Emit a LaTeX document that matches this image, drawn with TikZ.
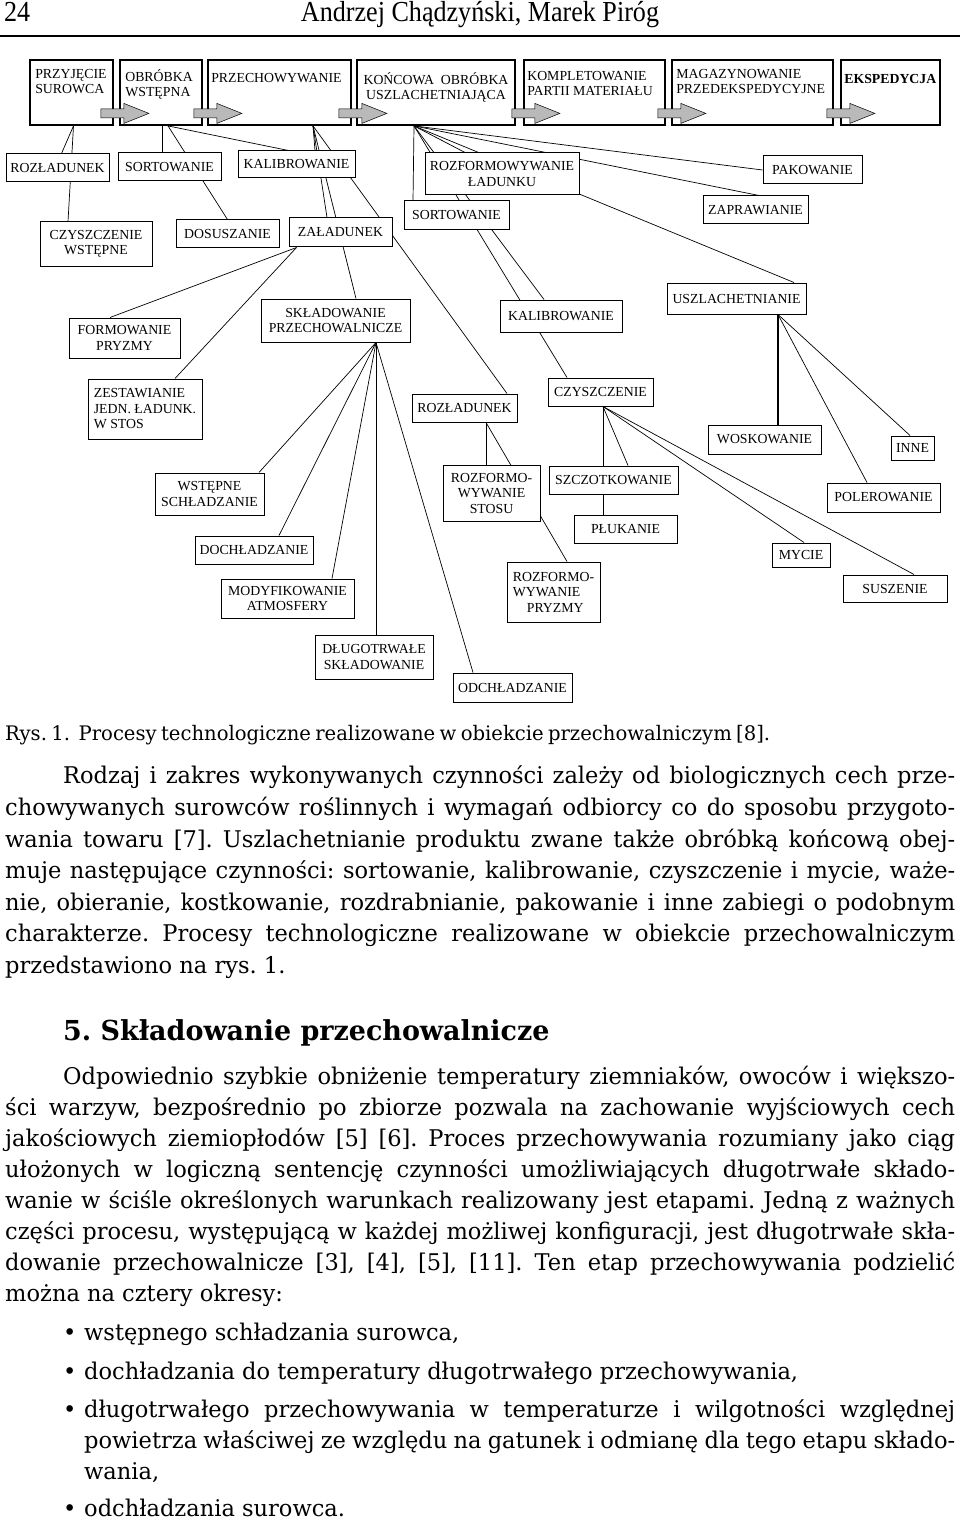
\documentclass[tikz,border=0pt]{standalone}
\usepackage{fontspec}
\setmainfont{DejaVu Serif}[FakeStretch=0.98]
\newfontfamily\procfamily{Liberation Serif}
\newfontfamily\headfamily{Liberation Serif}[FakeStretch=0.9]
\usetikzlibrary{backgrounds}

\newcommand{\procfont}{\procfamily\fontsize{13.8}{15.5}\selectfont}
\newcommand{\bodyfont}{\fontsize{23}{31}\selectfont}
\newcommand{\justline}[2]{\hbox to #1pt{#2}}
\frenchspacing

\begin{document}
\begin{tikzpicture}[x=1pt,y=-1pt,
  etap/.style={draw, line width=1.8pt, fill=white, inner sep=0pt, minimum height=65},
  etaptxt/.style={font=\procfont, align=left, inner sep=0pt, anchor=north west},
  box/.style={draw, line width=1pt, fill=white, font=\procfont, align=center, inner sep=1pt},
  link/.style={line width=0.7pt},
  blockarrow/.style={draw=black, line width=0.5pt, fill=gray!55},
  txtline/.style={font=\bodyfont, inner sep=0pt, anchor=base west}]

\useasboundingbox (0,0) rectangle (960,1522);

% naglowek strony
\node[anchor=base west, inner sep=0pt, font=\headfamily\fontsize{29}{32}\selectfont] (strona) at (4,22) {24};
\node[anchor=base, inner sep=0pt, font=\headfamily\fontsize{29}{32}\selectfont] (autorzy) at (480,22) {Andrzej Chądzyński, Marek Piróg};
\draw[line width=1.3pt] (0,36) -- (960,36);

% etapy glowne
\node[etap, minimum width=83] (przyjecie) at (71.5,92.5) {};
\node[etap, minimum width=82] (obrobka) at (161,92.5) {};
\node[etap, minimum width=143] (przechow) at (279.5,92.5) {};
\node[etap, minimum width=158] (koncowa) at (436,92.5) {};
\node[etap, minimum width=141] (komplet) at (594.5,92.5) {};
\node[etap, minimum width=161] (magazyn) at (752.5,92.5) {};
\node[etap, minimum width=99] (ekspedycja) at (890.5,92.5) {};

\node[etaptxt] (przyjecie-t) at ([xshift=6,yshift=-10]przyjecie.north west) {PRZYJĘCIE\\SUROWCA};
\node[etaptxt] (obrobka-t) at ([xshift=6,yshift=-10]obrobka.north west) {OBRÓBKA\\WSTĘPNA};
\node[etaptxt] (przechow-t) at ([xshift=4,yshift=-14]przechow.north west) {PRZECHOWYWANIE};
\node[etaptxt, anchor=north, align=center] (koncowa-t) at ([yshift=-13]koncowa.north) {KOŃCOWA\ \ OBRÓBKA\\USZLACHETNIAJĄCA};
\node[etaptxt] (komplet-t) at ([xshift=4,yshift=-12]komplet.north west) {KOMPLETOWANIE\\PARTII MATERIAŁU};
\node[etaptxt] (magazyn-t) at ([xshift=5,yshift=-10]magazyn.north west) {MAGAZYNOWANIE\\PRZEDEKSPEDYCYJNE};
\node[etaptxt, font=\procfont\bfseries] (ekspedycja-t) at ([xshift=4,yshift=-15]ekspedycja.north west) {EKSPEDYCJA};

\foreach \n/\d in {przyjecie/13, obrobka/9, przechow/13, koncowa/4, komplet/8, magazyn/7}
  \filldraw[blockarrow] ([xshift=-\d]\n.south east) ++(0,-17) -- ++(23,0) -- ++(0,-5.5) -- ++(25,10) -- ++(-25,10) -- ++(0,-5.5) -- ++(-23,0) -- cycle;

% czynnosci
\node[box, minimum width=103, minimum height=28] (rozl) at (57.5,168) {ROZŁADUNEK};
\node[box, minimum width=103, minimum height=28] (sort) at (169.5,167) {SORTOWANIE};
\node[box, minimum width=117, minimum height=27] (kalib) at (296.5,164.5) {KALIBROWANIE};
\node[box, minimum width=154, minimum height=42] (rozfl) at (502,174) {ROZFORMOWYWANIE\\ŁADUNKU};
\node[box, minimum width=99, minimum height=28] (pakow) at (812.5,170) {PAKOWANIE};
\node[box, minimum width=105, minimum height=29] (sortb) at (456.5,215.5) {SORTOWANIE};
\node[box, minimum width=105, minimum height=28] (zapraw) at (755.5,210) {ZAPRAWIANIE};
\node[box, minimum width=112, minimum height=44] (czwst) at (96,244) {CZYSZCZENIE\\WSTĘPNE};
\node[box, minimum width=103, minimum height=28] (dosusz) at (227.5,234) {DOSUSZANIE};
\node[box, minimum width=103, minimum height=29] (zalad) at (340.5,232.5) {ZAŁADUNEK};
\node[box, minimum width=111, minimum height=40] (formow) at (124.5,338) {FORMOWANIE\\PRYZMY};
\node[box, minimum width=149, minimum height=43] (skladow) at (335.5,320.5) {SKŁADOWANIE\\PRZECHOWALNICZE};
\node[box, minimum width=122, minimum height=32] (kalibb) at (561,316) {KALIBROWANIE};
\node[box, minimum width=139, minimum height=31] (uszlach) at (736.5,298.5) {USZLACHETNIANIE};
\node[box, minimum width=114, minimum height=60, align=left] (zestaw) at (145,409) {ZESTAWIANIE\\JEDN. ŁADUNK.\\W STOS};
\node[box, minimum width=105, minimum height=28] (rozlb) at (464.5,408) {ROZŁADUNEK};
\node[box, minimum width=105, minimum height=28] (czysz) at (600.5,392) {CZYSZCZENIE};
\node[box, minimum width=113, minimum height=29] (wosk) at (764.5,439.5) {WOSKOWANIE};
\node[box, minimum width=43, minimum height=24] (inne) at (912.5,448) {INNE};
\node[box, minimum width=109, minimum height=42] (wstschl) at (209.5,494) {WSTĘPNE\\SCHŁADZANIE};
\node[box, minimum width=97, minimum height=56] (stosu) at (491.5,493) {ROZFORMO-\\WYWANIE\\STOSU};
\node[box, minimum width=129, minimum height=28] (szczot) at (613.5,480) {SZCZOTKOWANIE};
\node[box, minimum width=113, minimum height=29] (poler) at (883.5,497.5) {POLEROWANIE};
\node[box, minimum width=103, minimum height=28] (pluk) at (625.5,529) {PŁUKANIE};
\node[box, minimum width=118, minimum height=28] (dochl) at (254,550) {DOCHŁADZANIE};
\node[box, minimum width=58, minimum height=24] (mycie) at (801,555) {MYCIE};
\node[box, minimum width=133, minimum height=39] (modyf) at (287.5,598.5) {MODYFIKOWANIE\\ATMOSFERY};
\node[box, minimum width=104, minimum height=27] (susz) at (895,588.5) {SUSZENIE};
\node[box, minimum width=93, minimum height=60, align=left] (pryzmy) at (553.5,592) {ROZFORMO-\\WYWANIE\\\hspace*{14pt}PRYZMY};
\node[box, minimum width=118, minimum height=44] (dlugo) at (374,657) {DŁUGOTRWAŁE\\SKŁADOWANIE};
\node[box, minimum width=119, minimum height=29] (odchl) at (512.5,687.5) {ODCHŁADZANIE};

% powiazania (pod prostokatami)
\begin{scope}[on background layer]
\fill[white] (0,0) rectangle (960,1522);
\coordinate (f-przyj) at ([xshift=2]przyjecie.south);
\draw[link] (f-przyj) -- ([xshift=4]rozl.north);
\draw[link] (f-przyj) -- ([xshift=-28]czwst.north);

\coordinate (f-obrob) at ([xshift=7]obrobka.south);
\draw[link] ([xshift=1]obrobka.south) -- ([xshift=-7.5]sort.north);
\draw[link] (f-obrob) -- (dosusz.north);
\draw[link] (f-obrob) -- ([xshift=-8]kalib.north);

\coordinate (f-przech) at ([xshift=33.5]przechow.south);
\foreach \cel/\dx in {kalib/18.5, zalad/-13.5, skladow/20.5, rozlb/42.5}
  \draw[link] (f-przech) -- ([xshift=\dx]\cel.north);

\coordinate (f-zalad) at ([xshift=8]zalad.south west);
\foreach \cel/\dx in {formow/-14.5, zestaw/30}
  \draw[link] (f-zalad) -- ([xshift=\dx]\cel.north);

\coordinate (f-sklad) at ([xshift=40.5]skladow.south);
\foreach \cel/\dx in {wstschl/49.5, dochl/25, modyf/44.5, dlugo/2, odchl/-39.5}
  \draw[link] (f-sklad) -- ([xshift=\dx]\cel.north);

\coordinate (f-konc) at ([xshift=-22]koncowa.south);
\foreach \cel/\dx in {sortb/-43.5, rozfl/-37, kalibb/-17, czysz/-33.5, uszlach/57.5, zapraw/3.5}
  \draw[link] (f-konc) -- ([xshift=\dx]\cel.north);
\draw[link] (f-konc) -- (pakow.west);

\coordinate (f-rozlb) at ([xshift=21.5]rozlb.south);
\foreach \cel/\dx in {stosu/-5.5, pryzmy/13.5}
  \draw[link] (f-rozlb) -- ([xshift=\dx]\cel.north);

\coordinate (f-czysz) at ([xshift=2.5]czysz.south);
\foreach \cel/\dx in {pluk/-22.5, szczot/14.5, mycie/3, susz/19}
  \draw[link] (f-czysz) -- ([xshift=\dx]\cel.north);

\coordinate (f-uszl) at ([xshift=41.5]uszlach.south);
\draw[link, line width=1.6pt] (f-uszl) -- ([xshift=13.5]wosk.north);
\foreach \cel/\dx in {poler/-16.5, inne/-2.5}
  \draw[link] (f-uszl) -- ([xshift=\dx]\cel.north);
\end{scope}

% podpis i tekst
\node[txtline, font=\fontsize{20}{24}\selectfont] (podpis) at (5,740) {\justline{765}{Rys. 1.\ \ Procesy technologiczne realizowane w obiekcie przechowalniczym [8].}};

\node[txtline] (p1a) at (63,783) {\justline{892}{Rodzaj i zakres wykonywanych czynności zależy od biologicznych cech prze-}};
\node[txtline] (p1b) at (5,815) {\justline{950}{chowywanych surowców roślinnych i wymagań odbiorcy co do sposobu przygoto-}};
\node[txtline] (p1c) at (5,847) {\justline{950}{wania towaru [7]. Uszlachetnianie produktu zwane także obróbką końcową obej-}};
\node[txtline] (p1d) at (5,878) {\justline{950}{muje następujące czynności: sortowanie, kalibrowanie, czyszczenie i mycie, waże-}};
\node[txtline] (p1e) at (5,910) {\justline{950}{nie, obieranie, kostkowanie, rozdrabnianie, pakowanie i inne zabiegi o podobnym}};
\node[txtline] (p1f) at (5,941) {\justline{950}{charakterze. Procesy technologiczne realizowane w obiekcie przechowalniczym}};
\node[txtline] (p1g) at (5,973) {przedstawiono na rys. 1.};

\node[txtline, font=\fontsize{27.5}{32}\selectfont\bfseries] (rozdzial) at (63,1040) {5. Składowanie przechowalnicze};

\node[txtline] (p2a) at (63,1084) {\justline{892}{Odpowiednio szybkie obniżenie temperatury ziemniaków, owoców i większo-}};
\node[txtline] (p2b) at (5,1115) {\justline{950}{ści warzyw, bezpośrednio po zbiorze pozwala na zachowanie wyjściowych cech}};
\node[txtline] (p2c) at (5,1146) {\justline{950}{jakościowych ziemiopłodów [5] [6]. Proces przechowywania rozumiany jako ciąg}};
\node[txtline] (p2d) at (5,1177) {\justline{950}{ułożonych w logiczną sentencję czynności umożliwiających długotrwałe składo-}};
\node[txtline] (p2e) at (5,1208) {\justline{950}{wanie w ściśle określonych warunkach realizowany jest etapami. Jedną z ważnych}};
\node[txtline] (p2f) at (5,1239) {\justline{950}{części procesu, występującą w każdej możliwej konfiguracji, jest długotrwałe skła-}};
\node[txtline] (p2g) at (5,1270) {\justline{950}{dowanie przechowalnicze [3], [4], [5], [11]. Ten etap przechowywania podzielić}};
\node[txtline] (p2h) at (5,1301) {można na cztery okresy:};

\foreach \y in {1340,1379,1417,1516}
  \node[txtline] (pkt\y) at (63,\y) {\textbullet};
\node[txtline] (w1) at (84,1340) {wstępnego schładzania surowca,};
\node[txtline] (w2) at (84,1379) {dochładzania do temperatury długotrwałego przechowywania,};
\node[txtline] (w3a) at (84,1417) {\justline{871}{długotrwałego przechowywania w temperaturze i wilgotności względnej}};
\node[txtline] (w3b) at (84,1448) {\justline{871}{powietrza właściwej ze względu na gatunek i odmianę dla tego etapu składo-}};
\node[txtline] (w3c) at (84,1479) {wania,};
\node[txtline] (w4) at (84,1516) {odchładzania surowca.};

\end{tikzpicture}
\end{document}
